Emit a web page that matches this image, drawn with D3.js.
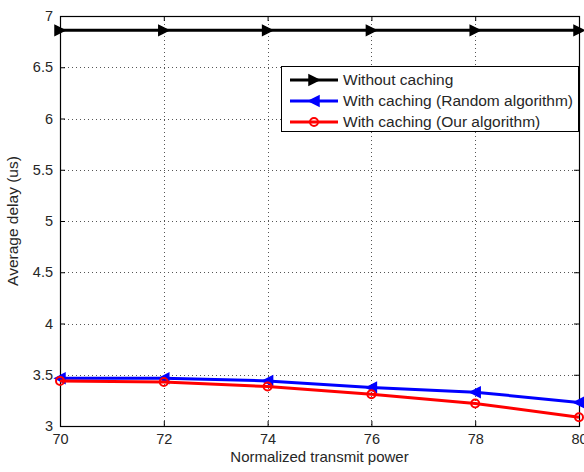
<!DOCTYPE html>
<html lang="en">
<head>
<meta charset="UTF-8">
<title>Average delay</title>
<script src="https://cdn.jsdelivr.net/npm/d3@7"></script>
<style>
    body { margin: 0; background: #fff; }
    text { font-family: Arial, "Liberation Sans", sans-serif; fill: #262626; }
</style>
</head>
<body>
<script>
    const powers = [70, 72, 74, 76, 78, 80];
    const noCache = [6.86, 6.86, 6.86, 6.86, 6.86, 6.86];
    const randomAlg = [3.465, 3.465, 3.44, 3.375, 3.33, 3.23];
    const ourAlg = [3.44, 3.43, 3.385, 3.31, 3.22, 3.085];
    const xTicks = [70, 72, 74, 76, 78, 80];
    const yTicks = [3, 3.5, 4, 4.5, 5, 5.5, 6, 6.5, 7];

    const series = [
        { name: "Without caching", values: noCache, color: "#000000", marker: "right" },
        { name: "With caching (Random algorithm)", values: randomAlg, color: "#0000ff", marker: "left" },
        { name: "With caching (Our algorithm)", values: ourAlg, color: "#ff0000", marker: "circle" }
    ];

    const width = 584, height = 472;
    const plotLeft = 60, plotRight = 579, plotTop = 16, plotBottom = 426;

    const svg = d3.select("body").append("svg")
        .attr("width", width)
        .attr("height", height);

    const x = d3.scaleLinear().domain([70, 80]).range([plotLeft, plotRight]);
    const y = d3.scaleLinear().domain([3, 7]).range([plotBottom, plotTop]);

    // grid
    const grid = svg.append("g").attr("stroke", "#555").attr("stroke-width", 1)
        .attr("stroke-dasharray", "1,3");
    grid.selectAll(".gx").data(xTicks.slice(1, -1)).enter().append("line")
        .attr("x1", d => Math.round(x(d)) + 0.5).attr("x2", d => Math.round(x(d)) + 0.5)
        .attr("y1", plotTop).attr("y2", plotBottom);
    grid.selectAll(".gy").data(yTicks.slice(1, -1)).enter().append("line")
        .attr("y1", d => Math.round(y(d)) + 0.5).attr("y2", d => Math.round(y(d)) + 0.5)
        .attr("x1", plotLeft).attr("x2", plotRight);

    // axes, ticks pointing inward
    svg.append("g").attr("transform", `translate(0,${plotBottom})`)
        .call(d3.axisBottom(x).tickValues(xTicks).tickSize(-5).tickPadding(8).tickFormat(d3.format("d")))
        .call(g => g.select(".domain").remove());
    svg.append("g").attr("transform", `translate(0,${plotTop})`)
        .call(d3.axisTop(x).tickValues(xTicks).tickSize(-5).tickFormat(""))
        .call(g => g.select(".domain").remove());
    svg.append("g").attr("transform", `translate(${plotLeft},0)`)
        .call(d3.axisLeft(y).tickValues(yTicks).tickSize(-5).tickPadding(7).tickFormat(d3.format("")))
        .call(g => g.select(".domain").remove());
    svg.append("g").attr("transform", `translate(${plotRight},0)`)
        .call(d3.axisRight(y).tickValues(yTicks).tickSize(-5).tickFormat(""))
        .call(g => g.select(".domain").remove());
    svg.selectAll(".tick text").attr("font-size", 14.5).attr("fill", "#333");
    svg.selectAll(".tick line").attr("stroke", "#000");

    svg.append("rect")
        .attr("x", plotLeft + 0.5).attr("y", plotTop + 0.5)
        .attr("width", plotRight - plotLeft).attr("height", plotBottom - plotTop)
        .attr("fill", "none").attr("stroke", "#000").attr("stroke-width", 1.2);

    const line = d3.line().x((d, i) => x(powers[i])).y(d => y(d));

    function drawMarker(g, type, cx, cy, color) {
        if (type === "circle") {
            g.append("circle").attr("cx", cx).attr("cy", cy).attr("r", 4)
                .attr("fill", "none").attr("stroke", color).attr("stroke-width", 2);
        } else {
            const s = 5;
            const pts = type === "right"
                ? [[cx + s, cy], [cx - s, cy - s], [cx - s, cy + s]]
                : [[cx - s, cy], [cx + s, cy - s], [cx + s, cy + s]];
            g.append("path").attr("d", "M" + pts.join("L") + "Z")
                .attr("fill", color).attr("stroke", color).attr("stroke-width", 1.5);
        }
    }

    series.forEach(s => {
        svg.append("path").datum(s.values)
            .attr("d", line)
            .attr("fill", "none")
            .attr("stroke", s.color)
            .attr("stroke-width", 3);
        const mg = svg.append("g");
        s.values.forEach((v, i) => drawMarker(mg, s.marker, x(powers[i]), y(v), s.color));
    });

    // legend
    const lg = svg.append("g");
    lg.append("rect").attr("x", 281.5).attr("y", 66.5).attr("width", 297).attr("height", 65)
        .attr("fill", "#fff").attr("stroke", "#000").attr("stroke-width", 1);
    series.forEach((s, i) => {
        const ly = 80 + i * 21;
        lg.append("line").attr("x1", 290).attr("x2", 338).attr("y1", ly).attr("y2", ly)
            .attr("stroke", s.color).attr("stroke-width", 3);
        drawMarker(lg, s.marker, 314, ly, s.color);
        lg.append("text").attr("x", 343).attr("y", ly).attr("dy", "0.35em")
            .attr("font-size", 15.5).text(s.name);
    });

    svg.append("text")
        .attr("x", (plotLeft + plotRight) / 2).attr("y", 462)
        .attr("text-anchor", "middle").attr("font-size", 15)
        .text("Normalized transmit power");
    svg.append("text")
        .attr("transform", `translate(18,${(plotTop + plotBottom) / 2}) rotate(-90)`)
        .attr("text-anchor", "middle").attr("font-size", 15.5)
        .text("Average delay (us)");
</script>
</body>
</html>
